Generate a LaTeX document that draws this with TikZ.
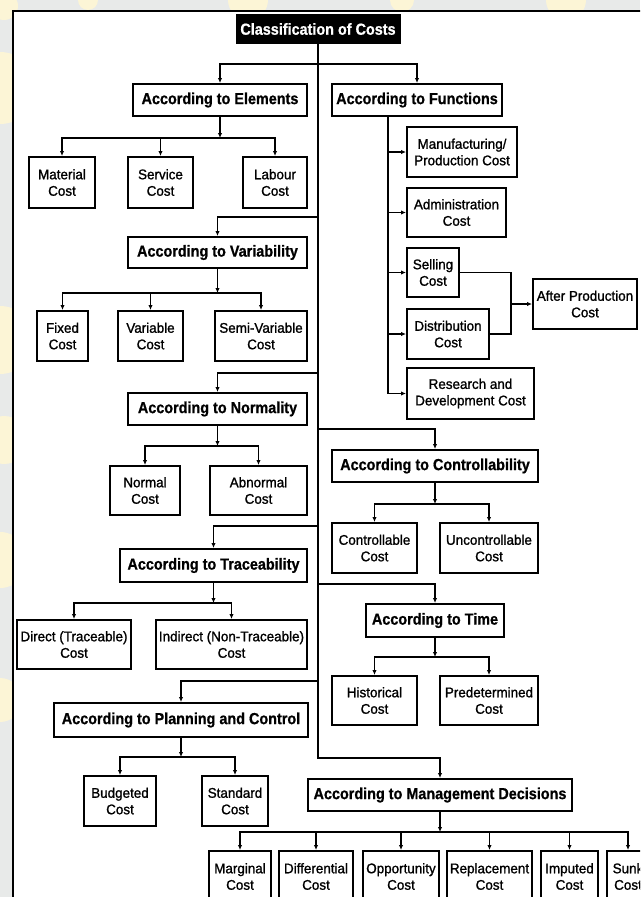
\documentclass[tikz,border=0pt]{standalone}
\usepackage{fontspec}
\setmainfont{Liberation Sans}[FakeStretch=0.9, BoldFeatures={FakeBold=0.8}]
\newfontfamily\leaffont{Liberation Sans}[FakeStretch=0.96, FakeBold=1.2]
\usetikzlibrary{arrows.meta,calc}
\definecolor{pagegrey}{HTML}{E8EAE9}
\definecolor{markyellow}{HTML}{FCF5D6}
\begin{document}
\begin{tikzpicture}[x=1pt,y=-1pt,
  wire/.style={line width=1.8pt, line join=miter},
  arr/.style={wire, -{Latex[length=5pt,width=4.5pt]}},
  box/.style={draw, line width=2pt, fill=white, inner sep=0pt, align=center},
  headbox/.style={box, font=\bfseries\fontsize{16}{18}\selectfont},
  leafbox/.style={box, font=\leaffont\fontsize{14}{16.5}\selectfont},
]
\clip (0,0) rectangle (640,897);

% page background with faint watermark blobs
\fill[pagegrey] (0,0) rectangle (640,897);
\begin{scope}[markyellow]
  \fill (4,6) circle (14);
  \fill (88,0) circle (10);
  \fill (248,0) circle (20);
  \fill (402,0) circle (12);
  \fill (566,0) circle (20);
  \fill (0,88) circle (36);
  \fill (0,340) circle (34);
  \fill (4,440) circle (24);
  \fill (0,560) circle (28);
  \fill (0,700) circle (22);
\end{scope}

% framed sheet
\draw[line width=2.4pt, fill=white] (13,11) rectangle (700,1000);

% ---- nodes ----
\node[box, fill=black, text=white, font=\bfseries\fontsize{16}{18}\selectfont,
      minimum width=163pt, minimum height=28pt] (title) at (318,29) {Classification of Costs};

\node[headbox, minimum width=174pt, minimum height=32pt] (elem) at (220,100) {According to Elements};
\node[headbox, minimum width=170pt, minimum height=32pt] (func) at (417,100) {According to Functions};

\node[leafbox, minimum width=66pt, minimum height=51pt] (material) at (62,182.5) {Material\\Cost};
\node[leafbox, minimum width=65pt, minimum height=51pt] (service) at (160.5,182.5) {Service\\Cost};
\node[leafbox, minimum width=64pt, minimum height=51pt] (labour) at (275,182.5) {Labour\\Cost};

\node[headbox, minimum width=179pt, minimum height=31pt] (var) at (217.5,252.5) {According to Variability};
\node[leafbox, minimum width=51pt, minimum height=50pt] (fixed) at (62.5,336) {Fixed\\Cost};
\node[leafbox, minimum width=65pt, minimum height=50pt] (variable) at (150.5,336) {Variable\\Cost};
\node[leafbox, minimum width=92pt, minimum height=50pt] (semivar) at (261,336) {Semi-Variable\\Cost};

\node[headbox, minimum width=179pt, minimum height=32pt] (norm) at (217.5,409) {According to Normality};
\node[leafbox, minimum width=70pt, minimum height=49pt] (normal) at (145,490.5) {Normal\\Cost};
\node[leafbox, minimum width=97pt, minimum height=49pt] (abnormal) at (258.5,490.5) {Abnormal\\Cost};

\node[headbox, minimum width=187pt, minimum height=33pt] (trace) at (213.5,565.5) {According to Traceability};
\node[leafbox, minimum width=114pt, minimum height=49pt] (direct) at (74,644.5) {Direct (Traceable)\\Cost};
\node[leafbox, minimum width=151pt, minimum height=49pt] (indirect) at (231.5,644.5) {Indirect (Non-Traceable)\\Cost};

\node[headbox, minimum width=254pt, minimum height=34pt] (plan) at (181,720) {According to Planning and Control};
\node[leafbox, minimum width=72pt, minimum height=50pt] (budget) at (120,801) {Budgeted\\Cost};
\node[leafbox, minimum width=66pt, minimum height=50pt] (standard) at (235,801) {Standard\\Cost};

\node[leafbox, minimum width=110pt, minimum height=50pt] (manuf) at (462,152) {Manufacturing/\\Production Cost};
\node[leafbox, minimum width=99pt, minimum height=49pt] (admin) at (456.5,212.5) {Administration\\Cost};
\node[leafbox, minimum width=52pt, minimum height=49pt] (selling) at (433,272.5) {Selling\\Cost};
\node[leafbox, minimum width=82pt, minimum height=50pt] (distrib) at (448,334) {Distribution\\Cost};
\node[leafbox, minimum width=127pt, minimum height=51pt] (rnd) at (470.5,393.5) {Research and\\Development Cost};
\node[leafbox, minimum width=104pt, minimum height=50pt] (after) at (585,304) {After Production\\Cost};

\node[headbox, minimum width=206pt, minimum height=32pt] (ctrl) at (435,466) {According to Controllability};
\node[leafbox, minimum width=85pt, minimum height=50pt] (controllable) at (374.5,548) {Controllable\\Cost};
\node[leafbox, minimum width=98pt, minimum height=50pt] (uncontrollable) at (489,548) {Uncontrollable\\Cost};

\node[headbox, minimum width=138pt, minimum height=33pt] (time) at (435,620.5) {According to Time};
\node[leafbox, minimum width=85pt, minimum height=49pt] (historical) at (374.5,700.5) {Historical\\Cost};
\node[leafbox, minimum width=98pt, minimum height=49pt] (predet) at (489,700.5) {Predetermined\\Cost};

\node[headbox, minimum width=264pt, minimum height=32pt] (mgmt) at (440,795) {According to Management Decisions};
\node[leafbox, minimum width=62pt, minimum height=51pt] (marginal) at (240,876.5) {Marginal\\Cost};
\node[leafbox, minimum width=74pt, minimum height=51pt] (differential) at (316,876.5) {Differential\\Cost};
\node[leafbox, minimum width=76pt, minimum height=51pt] (opportunity) at (401,876.5) {Opportunity\\Cost};
\node[leafbox, minimum width=85pt, minimum height=51pt] (replacement) at (489.5,876.5) {Replacement\\Cost};
\node[leafbox, minimum width=57pt, minimum height=51pt] (imputed) at (569.5,876.5) {Imputed\\Cost};
\node[leafbox, minimum width=42pt, minimum height=51pt] (sunk) at (628,876.5) {Sunk\\Cost};

% ---- trunk and its branch points ----
\coordinate (jtop)   at (318,64);
\coordinate (jvar)   at (318,217);
\coordinate (jnorm)  at (318,373);
\coordinate (jctrl)  at (318,429);
\coordinate (jtrace) at (318,526);
\coordinate (jtime)  at (318,584);
\coordinate (jplan)  at (318,681);
\coordinate (jmgmt)  at (318,758);

\draw[arr] (title.south) -- (jmgmt) -| (mgmt.north);
\draw[arr] (jtop) -| (elem.north);
\draw[arr] (jtop) -| (func.north);
\draw[arr] (jvar) -| (var.north);
\draw[arr] (jnorm) -| (norm.north);
\draw[arr] (jctrl) -| (ctrl.north);
\draw[arr] (jtrace) -| (trace.north);
\draw[arr] (jtime) -| (time.north);
\draw[arr] (jplan) -| (plan.north);

% ---- each heading fans out to its cost boxes ----
\draw[arr] (elem.south) -- ++(0,21) coordinate (belem);
\foreach \c in {material,service,labour} \draw[arr] (belem) -| (\c.north);

\draw[arr] (var.south) -- ++(0,24) coordinate (bvar);
\foreach \c in {fixed,variable,semivar} \draw[arr] (bvar) -| (\c.north);

\draw[arr] (norm.south) -- ++(0,20) coordinate (bnorm);
\foreach \c in {normal,abnormal} \draw[arr] (bnorm) -| (\c.north);

\draw[arr] (trace.south) -- ++(0,20) coordinate (btrace);
\foreach \c in {direct,indirect} \draw[arr] (btrace) -| (\c.north);

\draw[arr] (plan.south) -- ++(0,19) coordinate (bplan);
\foreach \c in {budget,standard} \draw[arr] (bplan) -| (\c.north);

\draw[arr] (ctrl.south) -- ++(0,21) coordinate (bctrl);
\foreach \c in {controllable,uncontrollable} \draw[arr] (bctrl) -| (\c.north);

\draw[arr] (time.south) -- ++(0,19) coordinate (btime);
\foreach \c in {historical,predet} \draw[arr] (btime) -| (\c.north);

\draw[arr] (mgmt.south) -- ++(0,20) coordinate (bmgmt);
\foreach \c in {marginal,differential,opportunity,replacement,imputed,sunk}
  \draw[arr] (bmgmt) -| (\c.north);

% ---- functional costs ----
\coordinate (fstem) at ($(func.south)+(-29,0)$);
\foreach \c in {manuf,admin,selling,distrib,rnd} \draw[arr] (fstem) |- (\c.west);

\coordinate (jafter) at ($(after.west)+(-21,0)$);
\draw[wire] (selling.east) -| (jafter);
\draw[wire] (distrib.east) -| (jafter);
\draw[arr] (jafter) -- (after.west);
\end{tikzpicture}
\end{document}
